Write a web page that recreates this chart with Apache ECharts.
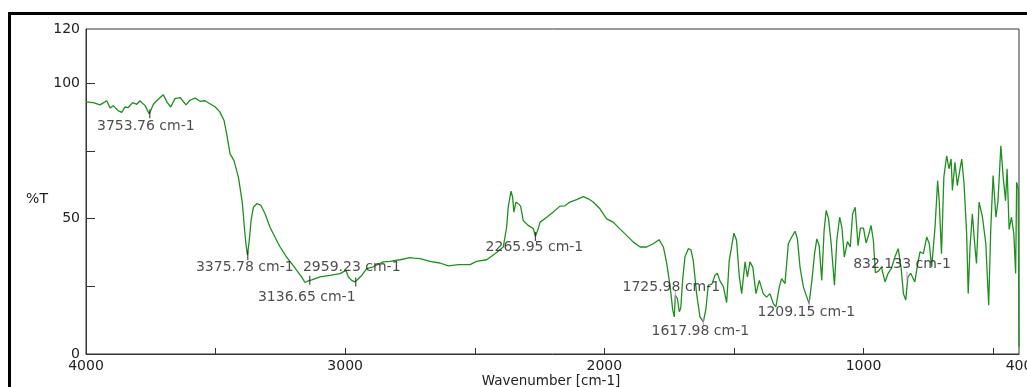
<!DOCTYPE html>
<html><head><meta charset="utf-8">
<script src="https://cdn.jsdelivr.net/npm/echarts@6/dist/echarts.min.js"></script>
<style>html,body{margin:0;padding:0;background:#fff}#c{width:1027px;height:387px}</style>
</head><body><div id="c"></div>
<script>
// IR spectrum: [wavenumber cm-1, %T]
const spectrum = [
[4000,93.1],[3972,92.8],[3946,92.0],[3920,93.5],[3907,90.8],[3895,91.7],[3875,89.8],[3862,89.2],[3850,91.2],[3837,91.0],
[3820,92.8],[3804,92.2],[3792,93.5],[3772,91.7],[3756,88.6],[3740,92.2],[3725,93.7],[3702,95.7],[3686,92.8],[3673,91.2],
[3657,94.3],[3637,94.7],[3614,92.0],[3599,93.7],[3579,94.5],[3560,93.3],[3541,93.5],[3522,92.4],[3502,91.3],[3483,89.3],
[3467,86.1],[3457,81.2],[3444,73.9],[3429,71.4],[3412,65.3],[3406,61.6],[3397,56.0],[3390,48.0],[3383,40.7],[3377,36.5],
[3370,42.0],[3363,49.3],[3354,54.2],[3341,55.5],[3326,55.0],[3309,51.8],[3290,46.8],[3271,43.2],[3251,39.5],[3226,35.8],
[3206,33.4],[3187,30.9],[3168,28.5],[3155,26.4],[3142,27.0],[3129,27.4],[3097,28.5],[3059,29.0],[3020,29.7],[2997,30.9],
[2988,28.5],[2975,27.2],[2962,26.6],[2949,27.8],[2936,29.0],[2917,31.5],[2891,32.2],[2853,34.0],[2827,34.2],[2788,34.8],
[2750,35.6],[2737,35.4],[2711,35.2],[2673,34.2],[2634,33.6],[2602,32.5],[2563,33.0],[2518,33.0],[2493,34.2],[2454,34.8],
[2422,37.0],[2390,39.5],[2377,46.8],[2371,54.2],[2360,60.1],[2354,58.0],[2349,52.4],[2341,56.1],[2332,55.5],[2323,54.5],
[2313,49.3],[2294,47.5],[2274,46.3],[2266,43.4],[2255,46.3],[2248,48.7],[2222,50.5],[2197,52.4],[2171,54.6],[2152,54.7],
[2133,56.1],[2107,57.0],[2081,58.1],[2062,57.3],[2043,56.1],[2017,53.6],[1991,49.9],[1966,48.7],[1940,46.2],[1914,43.8],
[1888,41.3],[1862,39.5],[1837,39.5],[1811,40.7],[1789,42.2],[1772,39.5],[1759,33.4],[1746,24.8],[1736,16.2],[1730,13.7],
[1726,21.7],[1718,20.5],[1711,15.6],[1705,17.0],[1698,27.2],[1689,35.8],[1676,38.9],[1666,38.5],[1657,34.6],[1644,22.3],
[1631,13.7],[1618,11.9],[1608,16.6],[1599,25.4],[1585,25.8],[1573,29.1],[1564,29.8],[1554,27.0],[1541,25.0],[1528,19.0],
[1518,34.6],[1500,44.6],[1490,42.0],[1479,28.5],[1470,22.3],[1457,34.0],[1448,28.5],[1438,34.0],[1427,32.0],[1415,22.3],
[1402,27.2],[1395,27.0],[1387,22.3],[1374,21.0],[1361,22.3],[1348,18.6],[1338,17.4],[1325,24.8],[1316,27.8],[1303,26.0],
[1290,40.7],[1277,43.2],[1264,45.3],[1255,42.5],[1245,32.1],[1232,24.8],[1219,21.1],[1210,18.6],[1199,27.2],[1189,37.0],
[1180,42.5],[1171,40.0],[1161,27.2],[1152,45.6],[1144,53.0],[1135,50.0],[1125,41.0],[1112,25.4],[1103,42.0],[1092,50.5],
[1083,46.5],[1074,35.8],[1062,41.5],[1051,39.5],[1042,51.8],[1032,54.2],[1021,40.0],[1012,46.5],[1000,46.5],[990,41.0],
[980,44.0],[971,47.5],[962,42.0],[954,30.0],[943,30.5],[931,32.1],[917,26.6],[905,29.8],[892,31.6],[879,35.8],
[866,38.9],[855,32.0],[846,22.3],[837,19.9],[829,28.4],[818,29.8],[802,26.6],[793,32.1],[782,37.7],[769,37.1],
[756,43.2],[746,40.7],[737,32.1],[724,46.8],[714,64.0],[708,56.6],[699,37.0],[690,65.3],[679,73.2],[670,68.4],
[662,72.0],[657,60.4],[647,70.8],[638,62.2],[630,67.0],[621,72.0],[612,62.8],[602,44.4],[596,22.3],[589,39.5],
[580,51.8],[570,39.5],[564,33.4],[554,56.1],[541,50.5],[528,40.7],[517,18.0],[509,46.0],[500,65.9],[489,50.5],
[481,56.6],[470,76.9],[461,65.3],[452,56.6],[446,68.4],[438,46.0],[429,50.5],[420,44.4],[413,29.7],[409,63.4],
[403,61.0],[400,2.7]
];
const peakWavenumbers = [3753.76, 3375.78, 3136.65, 2959.23, 2265.95, 1725.98, 1617.98, 1209.15, 832.133];
const peakTransmittance = [88.7, 36.4, 27.2, 26.6, 43.4, 21.7, 12.1, 18.6, 28.7];
const xTickValues = [500, 1000, 1500, 2000, 2500, 3000, 3500];
const xLabelValues = [4000, 3000, 2000, 1000, 400];
const yTickValues = [25, 50, 75, 100];
const yLabelValues = [0, 50, 100, 120];

// label layout (styling, not data)
const peakLabelOffsets = [[-4,13],[-3,12],[-3,17],[-4,-15],[-1,11],[-4,-8],[-3,10],[-3,9],[-5,-12]];
const peakTickColors = ['#222','#222','#222','#222','#222','#e47ce4','#e47ce4','#e47ce4','#e47ce4'];

const FONT = 'DejaVu Sans';
const peakData = peakWavenumbers.map((w, i) => ({
  value: [w, peakTransmittance[i]],
  itemStyle: { color: peakTickColors[i] },
  label: { offset: peakLabelOffsets[i] }
}));

const chart = echarts.init(document.getElementById('c'), null, { renderer: 'canvas' });
chart.setOption({
  animation: false,
  backgroundColor: '#fff',
  grid: { left: 86, right: 8, top: 29, bottom: 33, show: true, borderColor: '#333', borderWidth: 1,
    containLabel: false, outerBoundsMode: 'none' },
  xAxis: {
    type: 'value', inverse: true, min: 400, max: 4000,
    axisLine: { show: true, lineStyle: { color: '#333', width: 1 } },
    axisTick: { show: true, inside: true, length: 6, customValues: xTickValues, lineStyle: { color: '#333' } },
    axisLabel: { customValues: xLabelValues, color: '#222', fontFamily: FONT, fontSize: 14, margin: 5,
      hideOverlap: false, alignMinLabel: 'center', alignMaxLabel: 'center', formatter: v => String(v) },
    splitLine: { show: false }
  },
  yAxis: {
    type: 'value', min: 0, max: 120,
    axisLine: { show: true, lineStyle: { color: '#333', width: 1 } },
    axisTick: { show: true, inside: true, length: 9, customValues: yTickValues, lineStyle: { color: '#333' } },
    axisLabel: { customValues: yLabelValues, color: '#222', fontFamily: FONT, fontSize: 14, margin: 6,
      hideOverlap: false, formatter: v => String(v) },
    splitLine: { show: false }
  },
  graphic: [
    { type: 'rect', silent: true, shape: { x: 9.5, y: 13.5, width: 1200, height: 600 },
      style: { fill: null, stroke: '#000', lineWidth: 3 } },
    { type: 'text', x: 37, y: 199, style: { text: '%T', font: '14px "DejaVu Sans"', fill: '#222', align: 'center', verticalAlign: 'middle' } },
    { type: 'text', x: 551, y: 381, style: { text: 'Wavenumber [cm-1]', font: '13.5px "DejaVu Sans"', fill: '#222', align: 'center', verticalAlign: 'middle' } }
  ],
  series: [
    {
      type: 'line', data: spectrum, showSymbol: false, symbol: 'none',
      lineStyle: { color: '#1f8f1f', width: 1.3 }, z: 2
    },
    {
      type: 'scatter', data: peakData, symbol: 'rect', symbolSize: [1.2, 9], z: 3,
      label: {
        show: true, position: 'inside', color: '#222', fontFamily: FONT, fontSize: 14,
        formatter: p => p.value[0] + ' cm-1'
      }
    }
  ]
});
</script></body></html>
